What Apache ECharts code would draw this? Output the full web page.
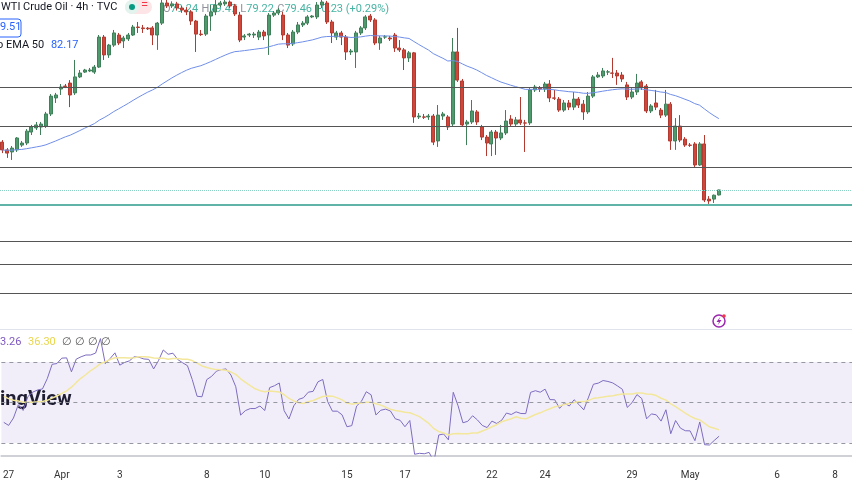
<!DOCTYPE html>
<html><head><meta charset="utf-8">
<script src="https://cdn.jsdelivr.net/npm/echarts@6/dist/echarts.min.js"></script>
<style>html,body{margin:0;padding:0;background:#fff}#c{width:852px;height:485px}</style>
</head><body><div id="c"></div>
<script>
// [open, close, low, high]
const ohlc = [
[81.55,81.21,81.07,81.64],[81.21,81.07,80.86,81.29],[81.12,81.29,80.77,81.38],[81.21,81.73,81.12,81.77],
[81.42,81.51,81.34,81.60],[81.51,82.03,81.42,82.12],[81.99,82.21,81.86,82.30],[82.17,82.30,82.08,82.43],
[82.21,82.34,81.86,82.43],[82.25,82.78,82.17,82.87],[82.78,83.56,82.69,83.65],[83.48,83.61,83.26,83.70],
[83.87,83.96,83.61,84.09],[84.00,83.98,83.91,84.09],[84.13,83.61,83.08,84.26],[83.70,84.40,83.61,85.14],
[84.40,84.57,84.35,84.70],[84.61,84.70,84.57,84.75],[84.66,84.70,84.61,84.79],[84.61,84.83,84.53,84.92],
[84.83,86.14,84.79,86.23],[86.14,85.36,85.14,86.23],[85.36,85.79,85.23,85.84],[85.79,86.32,85.71,86.45],
[86.23,85.88,85.79,86.32],[85.97,86.10,85.66,86.19],[86.06,86.23,85.97,86.32],[86.23,86.58,86.19,86.67],
[86.58,86.56,86.32,86.80],[86.54,86.51,86.32,86.67],[86.53,86.50,86.45,86.58],[86.54,86.23,85.79,86.62],
[86.23,86.75,85.58,86.80],[86.75,87.63,86.67,87.76],[87.63,87.50,87.41,87.85],[87.50,87.59,87.41,87.70],
[87.59,87.41,87.30,87.68],[87.41,87.32,87.20,87.50],[87.32,87.24,87.10,87.45],[87.24,86.84,86.67,87.32],
[86.84,86.27,85.49,86.89],[86.27,86.25,86.19,86.45],[86.27,87.06,86.19,87.15],[87.06,87.24,86.41,87.54],
[87.24,87.54,87.10,87.76],[87.54,87.63,87.45,87.72],[87.59,87.67,87.50,87.76],[87.67,87.50,87.41,87.74],
[87.50,87.15,87.06,87.59],[87.10,86.01,85.92,87.24],[86.14,86.19,86.01,86.27],[86.23,86.27,86.14,86.32],
[86.23,86.27,86.10,86.36],[86.14,86.36,86.01,86.45],[86.36,86.19,86.01,86.45],[86.23,87.10,85.36,87.19],
[87.10,87.19,87.02,87.28],[87.19,87.32,87.10,87.41],[87.10,86.23,86.01,87.24],[86.23,85.79,85.66,86.32],
[85.84,86.36,85.75,86.45],[86.36,86.67,86.27,86.80],[86.67,86.75,86.58,86.84],[86.75,87.02,86.67,87.10],
[87.02,87.06,86.97,87.10],[87.02,87.54,86.93,87.67],[87.54,87.67,87.41,87.76],[87.63,86.80,86.71,87.72],
[86.80,86.32,85.88,86.89],[86.14,86.32,86.01,86.41],[86.32,86.14,85.79,86.41],[86.14,85.49,85.14,86.23],
[85.49,85.53,85.36,85.62],[85.49,86.32,84.79,86.41],[86.32,86.54,86.23,86.62],[86.54,87.02,86.45,87.10],
[87.06,86.89,86.80,87.15],[86.89,85.88,85.79,86.97],[85.88,86.10,85.58,86.19],[86.14,86.15,86.06,86.23],
[86.10,86.06,85.97,86.19],[86.23,85.66,85.49,86.32],[85.66,85.58,85.49,86.01],[85.58,85.23,84.70,85.66],
[85.23,85.45,85.05,85.53],[85.45,82.65,82.39,85.49],[82.65,82.69,82.56,82.82],[82.65,82.64,82.56,82.78],
[82.65,82.69,82.52,82.78],[82.69,81.55,81.42,82.78],[81.60,82.73,81.34,83.17],[82.69,82.78,82.52,82.87],
[82.65,82.21,82.08,82.73],[82.34,85.49,82.25,86.10],[85.49,84.26,84.18,86.54],[84.22,82.30,82.21,84.31],
[82.34,82.43,81.42,82.52],[82.43,82.91,82.34,83.39],[82.87,82.43,82.30,82.95],[82.21,81.77,81.64,82.30],
[81.77,81.51,80.94,81.86],[81.47,81.99,80.94,82.08],[81.99,81.73,80.99,82.08],[81.73,81.95,81.64,82.30],
[81.95,82.47,81.86,82.95],[82.56,82.34,82.25,82.73],[82.34,82.52,82.25,82.65],[82.52,82.39,82.30,83.52],
[82.39,82.38,81.12,82.52],[82.39,83.83,82.30,83.91],[83.83,83.96,83.74,84.05],[83.91,83.87,83.74,84.00],
[83.87,84.09,83.74,84.18],[84.09,83.48,83.30,84.26],[83.48,83.47,83.39,83.83],[83.43,82.95,82.87,83.52],
[82.95,83.26,82.87,83.39],[83.26,83.08,82.95,83.39],[83.08,83.43,82.95,83.74],[83.43,83.17,83.04,83.52],
[83.21,82.87,82.52,83.39],[82.87,83.56,82.78,83.74],[83.56,84.40,83.48,84.48],[84.40,84.48,84.35,84.61],
[84.44,84.66,84.35,84.79],[84.61,84.62,84.48,84.70],[84.57,84.56,84.35,85.23],[84.57,84.44,84.05,84.70],
[84.48,84.31,84.18,84.61],[84.05,83.52,83.39,84.18],[83.52,83.74,83.43,83.91],[83.74,84.13,83.61,84.53],
[84.18,83.96,83.83,84.26],[84.00,82.91,82.82,84.09],[82.91,83.13,82.82,83.21],[83.26,83.08,82.95,83.83],
[82.95,82.73,82.60,83.04],[82.73,83.21,82.65,83.83],[83.21,81.60,81.21,83.30],[81.60,82.25,81.21,82.60],
[82.25,81.64,81.55,82.73],[81.68,81.42,81.34,81.77],[81.42,81.41,81.34,81.51],[81.47,80.55,80.46,81.55],
[80.55,81.47,80.51,81.55],[81.47,79.02,78.93,81.86],[79.06,78.98,78.85,79.19],[79.06,79.23,78.89,79.26],
[79.24,79.46,79.22,79.47]
];
const levels = [83.96, 82.25, 80.46, 77.23, 76.22, 74.96];
const supportLevel = 78.80;
const lastPrice = 79.46;
const tickLabels = {1:'27',12:'Apr',24:'3',42:'8',54:'10',71:'15',83:'17',101:'22',112:'24',130:'29',142:'May',160:'6',172:'8'};
const totalSlots = 176;

const cats = Array.from({length: totalSlots}, (_, i) => 'b' + i);
const closes = ohlc.map(d => d[1]);
const ema = []; let e = 81.2; const k = 2 / 51;
closes.forEach(c => { e = c * k + e * (1 - k); ema.push(+e.toFixed(3)); });
const rsi = []; let ag = 0.12, al = 0.16, prev = 81.45;
closes.forEach(c => { const d = c - prev; prev = c;
  ag = (ag * 13 + Math.max(d, 0)) / 14; al = (al * 13 + Math.max(-d, 0)) / 14;
  rsi.push(+(100 - 100 / (1 + ag / al)).toFixed(2)); });
const rsiMa = rsi.map((v, i) => { let s = 0, n = 0; for (let j = i - 13; j <= i; j++) { s += j < 0 ? 54 : rsi[j]; n++; } return +(s / n).toFixed(2); });

const ch = echarts.init(document.getElementById('c'));
ch.setOption({
  animation: false,
  grid: [{left: 0, right: 0, top: 0, height: 330}, {left: 0, right: 0, top: 330, height: 126}],
  xAxis: [
    {type: 'category', data: cats, gridIndex: 0, show: false},
    {type: 'category', data: cats, gridIndex: 1, axisLine: {lineStyle: {color: '#cfd1d6', width: 2}}, axisTick: {show: false},
     axisLabel: {interval: (i) => tickLabels[i] !== undefined, formatter: (v, i) => tickLabels[i] || '', color: '#333', fontSize: 10, fontFamily: 'Roboto', margin: 14}}
  ],
  yAxis: [
    {type: 'value', gridIndex: 0, min: 73.34, max: 87.76, show: false},
    {type: 'value', gridIndex: 1, min: 23.6, max: 85.8, show: false}
  ],
  series: [
    {type: 'candlestick', data: ohlc.map(d => [d[0], d[1], d[2], d[3]]), barWidth: '72%',
     itemStyle: {color: '#4f9a6d', color0: '#cf463a', borderColor: '#3f7f59', borderColor0: '#b23a30', borderWidth: 1},
     markLine: {silent: true, symbol: 'none', label: {show: false},
       data: levels.map(v => ({yAxis: v, lineStyle: {color: '#555', width: 1, type: 'solid'}}))
         .concat([{yAxis: supportLevel, lineStyle: {color: '#5fb3a7', width: 2, type: 'solid'}},
                  {yAxis: lastPrice, lineStyle: {color: '#8ccfc3', width: 1, type: 'dotted'}}])}},
    {type: 'line', data: ema, symbol: 'none', lineStyle: {color: '#6f8ee8', width: 1}},
    {type: 'line', data: rsi, xAxisIndex: 1, yAxisIndex: 1, symbol: 'none', lineStyle: {color: '#7e6cc0', width: 1},
     markArea: {silent: true, itemStyle: {color: 'rgba(126,87,194,0.1)'}, data: [[{yAxis: 30}, {yAxis: 70}]]},
     markLine: {silent: true, symbol: 'none', label: {show: false}, lineStyle: {color: '#9598a1', type: [4, 4], width: 1},
       data: [{yAxis: 70}, {yAxis: 50}, {yAxis: 30}]}},
    {type: 'line', data: rsiMa, xAxisIndex: 1, yAxisIndex: 1, symbol: 'none', lineStyle: {color: '#f3e79b', width: 1.5}}
  ],
  graphic: [
    {type: 'rect', shape: {x: 0, y: 329, width: 852, height: 1}, style: {fill: '#e0e3eb'}},
    {type: 'rect', shape: {x: 0, y: 0, width: 350, height: 15}, style: {fill: 'rgba(255,255,255,0.55)'}},
    {type: 'text', left: 1, top: 2, style: {text: 'WTI Crude Oil · 4h · TVC', font: '11px Roboto', fill: '#131722'}},
    {type: 'rect', shape: {x: 125, y: 0, width: 27, height: 14, r: 7}, style: {fill: '#fde4e6'}},
    {type: 'circle', shape: {cx: 132, cy: 7, r: 7}, style: {fill: '#e3f4ef'}},
    {type: 'circle', shape: {cx: 132, cy: 7, r: 3}, style: {fill: '#089981'}},
    {type: 'text', left: 141, top: -1, style: {text: '=', font: '13px Roboto', fill: '#f23645'}},
    {type: 'text', left: 163, top: 3, style: {rich: {g: {fill: '#089981', font: '11px Roboto'}, k: {fill: '#6a6d78', font: '11px Roboto'}},
      text: '{k|O}{g|79.24} {k|H}{g|79.47} {k|L}{g|79.22} {k|C}{g|79.46} {g|+0.23 (+0.29%)}', opacity: 0.75}},
    {type: 'rect', shape: {x: -6, y: 19, width: 27, height: 18, r: 3}, style: {fill: '#fff', stroke: '#2962ff', lineWidth: 1}},
    {type: 'text', left: 0, top: 22, style: {text: '9.51', font: '11px Roboto', fill: '#2962ff'}},
    {type: 'text', left: -3, top: 39, style: {rich: {a: {fill: '#131722', font: '11px Roboto'}, b: {fill: '#2962ff', font: '11px Roboto'}}, text: '{a|o EMA 50}  {b|82.17}'}},
    {type: 'text', left: 0, top: 336, style: {rich: {a: {fill: '#7e57c2', font: '11px Roboto'}, b: {fill: '#e9d64a', font: '11px Roboto'}, c: {fill: '#555', font: '11px Roboto'}}, text: '{a|3.26}  {b|36.30}  {c|∅ ∅ ∅ ∅}'}},
    {type: 'text', left: 0, top: 390, style: {text: 'ingView', font: 'bold 20px Roboto', fill: '#131722'}},
    {type: 'circle', shape: {cx: 719, cy: 321, r: 6}, style: {fill: '#fff', stroke: '#9c27b0', lineWidth: 1.5}},
    {type: 'polygon', shape: {points: [[720.5, 316.5], [716.5, 322], [719, 322], [717.5, 325.5], [721.5, 320], [719, 320]]}, style: {fill: '#9c27b0'}},
    {type: 'circle', shape: {cx: 724, cy: 316, r: 1.8}, style: {fill: '#f23645'}}
  ]
});
</script></body></html>
